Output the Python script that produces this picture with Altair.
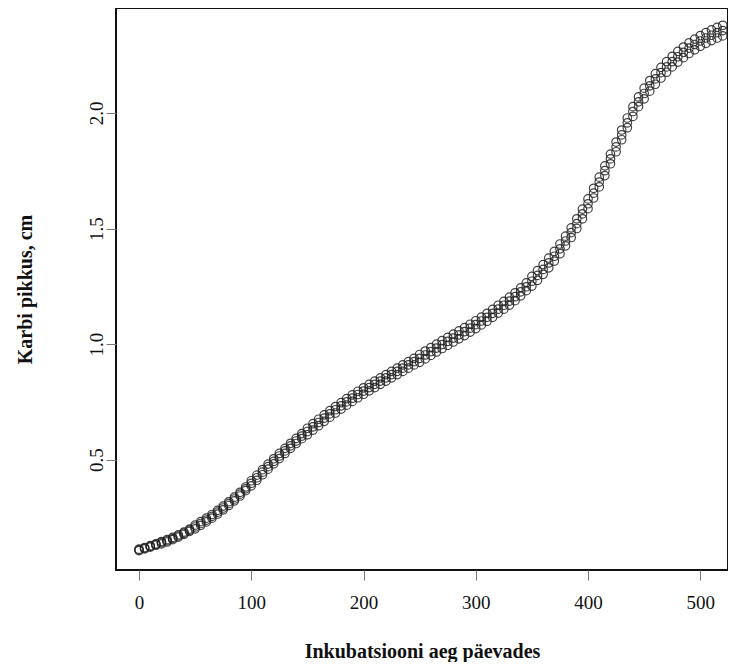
import altair as alt
import pandas as pd

days = list(range(0, 521, 5))

centre = [0.110, 0.117, 0.125, 0.133, 0.141, 0.149, 0.159, 0.170, 0.182, 0.195,
          0.209, 0.224, 0.239, 0.255, 0.273, 0.291, 0.310, 0.330, 0.351, 0.374,
          0.398, 0.422, 0.446, 0.470, 0.493, 0.516, 0.538, 0.560, 0.581, 0.602,
          0.622, 0.642, 0.661, 0.680, 0.698, 0.716, 0.733, 0.750, 0.766, 0.782,
          0.797, 0.812, 0.826, 0.840, 0.854, 0.868, 0.882, 0.896, 0.910, 0.924,
          0.938, 0.953, 0.968, 0.983, 0.998, 1.012, 1.026, 1.040, 1.054, 1.069,
          1.084, 1.100, 1.116, 1.133, 1.151, 1.168, 1.186, 1.205, 1.226, 1.248,
          1.272, 1.297, 1.323, 1.351, 1.380, 1.412, 1.446, 1.482, 1.521, 1.563,
          1.607, 1.653, 1.701, 1.750, 1.801, 1.853, 1.905, 1.957, 2.006, 2.048,
          2.084, 2.117, 2.147, 2.174, 2.199, 2.222, 2.243, 2.262, 2.280, 2.296,
          2.311, 2.324, 2.336, 2.347, 2.356]

upper = [0.113, 0.120, 0.128, 0.136, 0.146, 0.154, 0.164, 0.175, 0.187, 0.200,
         0.217, 0.232, 0.247, 0.263, 0.281, 0.299, 0.318, 0.338, 0.359, 0.382,
         0.409, 0.433, 0.457, 0.481, 0.504, 0.527, 0.549, 0.571, 0.592, 0.613,
         0.636, 0.656, 0.675, 0.694, 0.712, 0.730, 0.747, 0.764, 0.780, 0.796,
         0.811, 0.826, 0.840, 0.854, 0.868, 0.882, 0.896, 0.910, 0.924, 0.938,
         0.955, 0.970, 0.985, 1.000, 1.015, 1.029, 1.043, 1.057, 1.071, 1.086,
         1.101, 1.117, 1.133, 1.150, 1.168, 1.185, 1.203, 1.222, 1.243, 1.265,
         1.293, 1.318, 1.344, 1.372, 1.401, 1.433, 1.467, 1.503, 1.542, 1.584,
         1.628, 1.674, 1.722, 1.771, 1.822, 1.874, 1.926, 1.978, 2.027, 2.069,
         2.107, 2.140, 2.170, 2.197, 2.222, 2.245, 2.266, 2.285, 2.303, 2.319,
         2.334, 2.347, 2.359, 2.370, 2.379]

lower = [0.107, 0.114, 0.122, 0.130, 0.136, 0.144, 0.154, 0.165, 0.177, 0.190,
         0.201, 0.216, 0.231, 0.247, 0.265, 0.283, 0.302, 0.322, 0.343, 0.366,
         0.387, 0.411, 0.435, 0.459, 0.482, 0.505, 0.527, 0.549, 0.570, 0.591,
         0.608, 0.628, 0.647, 0.666, 0.684, 0.702, 0.719, 0.736, 0.752, 0.768,
         0.783, 0.798, 0.812, 0.826, 0.840, 0.854, 0.868, 0.882, 0.896, 0.910,
         0.921, 0.936, 0.951, 0.966, 0.981, 0.995, 1.009, 1.023, 1.037, 1.052,
         1.067, 1.083, 1.099, 1.116, 1.134, 1.151, 1.169, 1.188, 1.209, 1.231,
         1.251, 1.276, 1.302, 1.330, 1.359, 1.391, 1.425, 1.461, 1.500, 1.542,
         1.586, 1.632, 1.680, 1.729, 1.780, 1.832, 1.884, 1.936, 1.985, 2.027,
         2.061, 2.094, 2.124, 2.151, 2.176, 2.199, 2.220, 2.239, 2.257, 2.273,
         2.288, 2.301, 2.313, 2.324, 2.333]

x_ticks = [0, 100, 200, 300, 400, 500]
y_ticks = [0.5, 1.0, 1.5, 2.0]

rows = []
for name, vals in (("ülemine", upper), ("keskmine", centre), ("alumine", lower)):
    for d, v in zip(days, vals):
        rows.append({"paev": d, "pikkus": v, "seeria": name})
df = pd.DataFrame(rows)

FONT = "Liberation Serif"

chart = alt.Chart(df).mark_point(
    shape="circle", filled=False, size=72, strokeWidth=1.2,
    color="#222222", opacity=0.85
).encode(
    x=alt.X("paev:Q",
            scale=alt.Scale(domain=[-20.5, 524.7], nice=False, zero=False),
            axis=alt.Axis(values=x_ticks, title="Inkubatsiooni aeg päevades",
                          format="d", tickSize=10, tickColor="#777",
                          labelPadding=22, labelBaseline="middle",
                          labelFontSize=19, labelFont=FONT, labelColor="#111",
                          titleFont=FONT, titleFontSize=20, titleFontWeight="bold",
                          titleColor="#111", titleY=87, titleBaseline="alphabetic",
                          domain=False, grid=False, labelFlush=False)),
    y=alt.Y("pikkus:Q",
            scale=alt.Scale(domain=[0.0229, 2.4538], nice=False, zero=False),
            axis=alt.Axis(values=y_ticks, title="Karbi pikkus, cm",
                          format=".1f", tickSize=10, tickColor="#777",
                          labelAngle=270, labelAlign="center", labelBaseline="middle",
                          labelPadding=10,
                          labelFontSize=19, labelFont=FONT, labelColor="#111",
                          titleFont=FONT, titleFontSize=20, titleFontWeight="bold",
                          titleColor="#111", titleAngle=270, titleX=-91, titleY=281,
                          titleAlign="center", titleBaseline="middle",
                          domain=False, grid=False, labelFlush=False)),
    detail="seeria:N",
).properties(
    width=612, height=562,
    background="white",
    autosize=alt.AutoSizeParams(type="none"),
    padding={"left": 108, "top": 0, "right": 0, "bottom": 92},
).configure_view(
    stroke="#111", strokeWidth=2
)

chart.save("out.html", embed_options={"renderer": "svg", "actions": False})
